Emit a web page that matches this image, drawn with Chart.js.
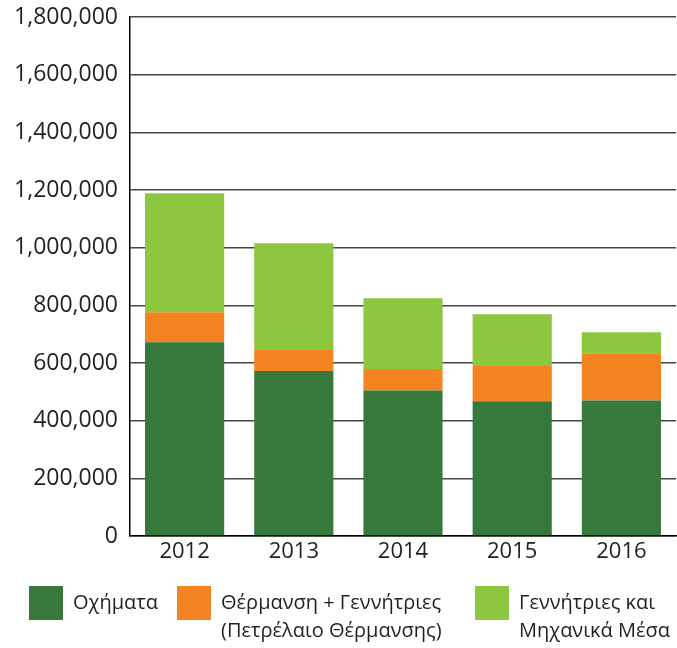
<!DOCTYPE html>
<html>
<head>
<meta charset="utf-8">
<script src="https://cdn.jsdelivr.net/npm/chart.js@4"></script>
<style>
  html, body { margin: 0; padding: 0; background: #ffffff; }
  #wrap { position: relative; width: 677px; height: 648px; }
</style>
</head>
<body>
<div id="wrap"><canvas id="c"></canvas></div>
<script>
const categories = ['2012', '2013', '2014', '2015', '2016'];
const vehicles = [672000, 572000, 505000, 467000, 470000];
const heatingGenerators = [104000, 73000, 74000, 123000, 164000];
const generatorsMachinery = [413000, 370000, 246000, 179000, 73000];
const seriesLabels = [
  ['Οχήματα'],
  ['Θέρμανση + Γεννήτριες', '(Πετρέλαιο Θέρμανσης)'],
  ['Γεννήτριες και', 'Μηχανικά Μέσα']
];
const seriesColors = ['#37783B', '#F48322', '#8DC63F'];
const yTicks = [0, 200000, 400000, 600000, 800000, 1000000, 1200000, 1400000, 1600000, 1800000];

const FONT = "'Open Sans', 'Noto Sans', sans-serif";
const TEXT = '#231F20';

const legendPlugin = {
  id: 'customLegend',
  afterDraw(chart) {
    const ctx = chart.ctx;
    ctx.save();
    ctx.font = '20px ' + FONT;
    ctx.textBaseline = 'middle';
    ctx.textAlign = 'left';
    const box = 34, textOff = 44, lineH = 28;
    const top = 586;
    const itemX = [29, 177, 475];
    chart.data.datasets.forEach((ds, i) => {
      const x = itemX[i];
      ctx.fillStyle = ds.backgroundColor;
      ctx.fillRect(x, top, box, box);
      ctx.fillStyle = TEXT;
      seriesLabels[i].forEach((ln, j) => {
        ctx.fillText(ln, x + textOff, top + box / 2 + j * lineH);
      });
    });
    ctx.restore();
  }
};

new Chart(document.getElementById('c'), {
  type: 'bar',
  data: {
    labels: categories,
    datasets: [
      { label: seriesLabels[0].join(' '), data: vehicles, backgroundColor: seriesColors[0] },
      { label: seriesLabels[1].join(' '), data: heatingGenerators, backgroundColor: seriesColors[1] },
      { label: seriesLabels[2].join(' '), data: generatorsMachinery, backgroundColor: seriesColors[2] }
    ]
  },
  options: {
    responsive: true,
    maintainAspectRatio: false,
    animation: false,
    datasets: { bar: { categoryPercentage: 1, barPercentage: 0.725, borderWidth: 0 } },
    layout: { padding: { top: 17, right: 1, bottom: 82, left: 0 } },
    plugins: { legend: { display: false }, tooltip: { enabled: false } },
    scales: {
      x: {
        stacked: true,
        grid: { display: false, drawTicks: false },
        border: { display: true, color: '#000', width: 1.5 },
        ticks: { color: TEXT, font: { family: FONT, size: 22 }, padding: 3 },
        afterFit(s) { s.height = 30; s.paddingLeft = 0; s.paddingRight = 0; }
      },
      y: {
        stacked: true,
        min: 0,
        max: 1800000,
        afterBuildTicks(s) { s.ticks = yTicks.map(v => ({ value: v })); },
        grid: { color: '#444', lineWidth: 1.5, drawTicks: false },
        border: { display: true, color: '#000', width: 1.5 },
        ticks: {
          color: TEXT,
          font: { family: FONT, size: 23 },
          padding: 12,
          callback: v => v.toLocaleString('en-US')
        },
        afterFit(s) { s.width = 130; s.paddingTop = 0; s.paddingBottom = 0; }
      }
    }
  },
  plugins: [legendPlugin]
});
</script>
</body>
</html>
